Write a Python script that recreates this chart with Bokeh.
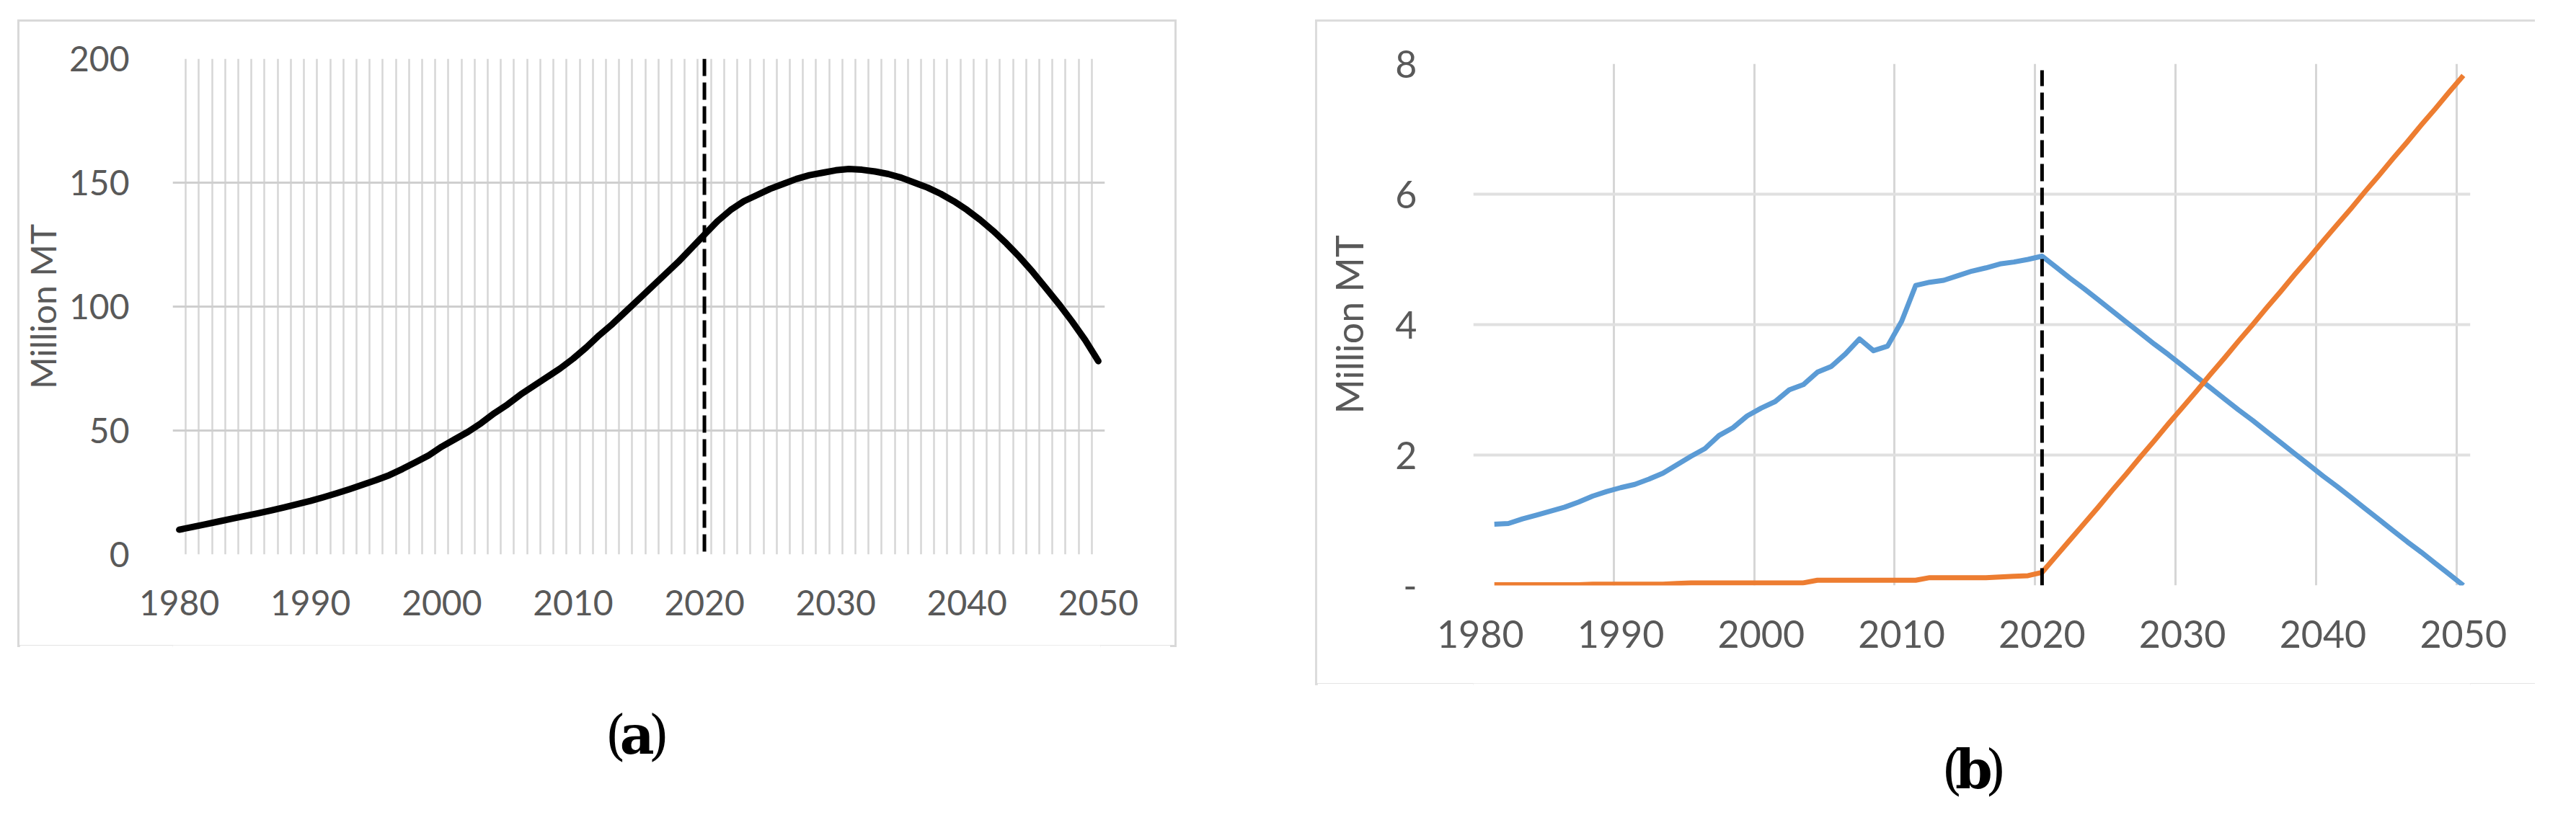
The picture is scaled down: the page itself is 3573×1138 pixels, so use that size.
from bokeh.plotting import figure
from bokeh.models import Range1d, FixedTicker, Span, Label
from bokeh.layouts import row, column
from bokeh.embed import file_html
from bokeh.resources import INLINE

# ---------------- data ----------------
years_a = list(range(1980, 2051))
total_mt = [
    10.0, 11.1, 12.2, 13.3, 14.4, 15.5, 16.6, 17.8, 19.0, 20.3,
    21.6, 23.1, 24.7, 26.4, 28.2, 30.0, 32.0, 34.5, 37.2, 40.0,
    43.5, 46.5, 49.5, 53.0, 57.0, 60.5, 64.5, 68.0, 71.5, 75.0,
    79.0, 83.5, 88.5, 93.0, 98.0, 103.0, 108.0, 113.0, 118.0, 123.5,
    129.0, 134.5, 139.0, 142.5, 145.0, 147.5, 149.5, 151.5, 153.0, 154.0,
    155.0, 155.5, 155.2, 154.5, 153.5, 152.0, 150.0, 148.0, 145.5, 142.5,
    139.0, 135.0, 130.5, 125.5, 120.0, 114.0, 107.5, 101.0, 94.0, 86.5,
    78.0,
]

years_b = list(range(1981, 2051))
blue_mt = [
    0.94, 0.95, 1.02, 1.08, 1.14, 1.20, 1.28, 1.37, 1.44, 1.50,
    1.55, 1.63, 1.72, 1.85, 1.98, 2.10, 2.30, 2.42, 2.60, 2.72,
    2.82, 3.00, 3.08, 3.27, 3.36, 3.55, 3.78, 3.60, 3.67, 4.05,
    4.60, 4.65, 4.68, 4.75, 4.82, 4.87, 4.93, 4.96, 5.00, 5.05,
    4.88, 4.71, 4.55, 4.38, 4.21, 4.04, 3.87, 3.70, 3.54, 3.37,
    3.20, 3.03, 2.86, 2.69, 2.53, 2.36, 2.19, 2.02, 1.85, 1.68,
    1.52, 1.35, 1.18, 1.01, 0.84, 0.67, 0.51, 0.34, 0.17, 0.00,
]
orange_mt = [
    0.01, 0.01, 0.01, 0.01, 0.01, 0.01, 0.01, 0.02, 0.02, 0.02,
    0.02, 0.02, 0.02, 0.03, 0.04, 0.04, 0.04, 0.04, 0.04, 0.04,
    0.04, 0.04, 0.04, 0.08, 0.08, 0.08, 0.08, 0.08, 0.08, 0.08,
    0.08, 0.12, 0.12, 0.12, 0.12, 0.12, 0.13, 0.14, 0.15, 0.20,
    0.45, 0.70, 0.95, 1.20, 1.46, 1.71, 1.97, 2.22, 2.48, 2.73,
    2.98, 3.24, 3.49, 3.75, 4.00, 4.26, 4.51, 4.77, 5.02, 5.28,
    5.53, 5.78, 6.04, 6.29, 6.55, 6.80, 7.06, 7.31, 7.57, 7.82,
]

x_ticks = [1980, 1990, 2000, 2010, 2020, 2030, 2040, 2050]
y_ticks_a = [0, 50, 100, 150, 200]
y_ticks_b = [0, 2, 4, 6, 8]
y_labels_b = ["-", "2", "4", "6", "8"]
marker_year = 2020
marker_top_b = 7.9
y_title = "Million MT"
captions = ["a", "b"]

TICK_COLOR = "#595959"
GRID_COLOR = "#d6d6d6"
FONT = "Lato"


def style_axes(p, font_px, x_standoff, y_standoff, title_standoff):
    for ax in (p.xaxis[0], p.yaxis[0]):
        ax.axis_line_color = None
        ax.major_tick_line_color = None
        ax.minor_tick_line_color = None
        ax.major_label_text_font = FONT
        ax.major_label_text_font_size = f"{font_px}px"
        ax.major_label_text_color = TICK_COLOR
    p.xaxis[0].ticker = FixedTicker(ticks=x_ticks)
    p.xaxis[0].major_label_standoff = x_standoff
    p.yaxis[0].major_label_standoff = y_standoff
    p.yaxis[0].axis_label = y_title
    p.yaxis[0].axis_label_text_font = FONT
    p.yaxis[0].axis_label_text_font_size = f"{font_px}px"
    p.yaxis[0].axis_label_text_font_style = "normal"
    p.yaxis[0].axis_label_text_color = TICK_COLOR
    p.yaxis[0].axis_label_standoff = title_standoff
    p.outline_line_color = None
    p.background_fill_color = "white"
    p.border_fill_color = "white"


def caption_fig(letter, width, height, cx, cy_from_top, margin_left):
    c = figure(width=width, height=height, x_range=Range1d(0, width), y_range=Range1d(height, 0),
               x_axis_type=None, y_axis_type=None, min_border=0,
               output_backend="svg", toolbar_location=None)
    c.grid.visible = False
    c.outline_line_color = None
    c.margin = (0, 0, 0, margin_left)
    for dx, txt, style in ((-37, "(", "normal"), (0, letter, "bold"), (37, ")", "normal")):
        c.add_layout(Label(x=cx + dx, y=cy_from_top, text=txt, text_align="center",
                           text_baseline="middle", text_font="DejaVu Serif",
                           text_font_size="74px", text_font_style=style, text_color="black"))
    return c


# ---------------- panel (a) ----------------
pa = figure(frame_width=1293, frame_height=688,
            min_border_left=206, min_border_top=51, min_border_right=97, min_border_bottom=126,
            x_range=Range1d(years_a[0] - 0.5, years_a[-1] + 0.5), y_range=Range1d(0, 200),
            output_backend="svg", toolbar_location=None)
pa.margin = (30, 0, 0, 27)
pa.styles = {"box-shadow": "0 0 0 3px #d9d9d9"}
style_axes(pa, 48, 43, 54, 5)
pa.yaxis[0].ticker = FixedTicker(ticks=y_ticks_a)
pa.xgrid.ticker = FixedTicker(ticks=[y - 0.5 for y in years_a] + [years_a[-1] + 0.5])
pa.ygrid.ticker = FixedTicker(ticks=y_ticks_a)
pa.xgrid.grid_line_color = GRID_COLOR
pa.xgrid.grid_line_width = 2.5
pa.ygrid.grid_line_color = "#cfcfcf"
pa.ygrid.grid_line_width = 3

pa.line(years_a, total_mt, line_color="black", line_width=9, line_join="round", line_cap="round")
pa.add_layout(Span(location=marker_year, dimension="height", line_color="black",
                   line_width=5, line_dash="24 9"))

cap_a = caption_fig(captions[0], 1596, 200, 799, 124, 27)

# ---------------- panel (b) ----------------
pb = figure(frame_width=1383, frame_height=724,
            min_border_left=216, min_border_top=58, min_border_right=90, min_border_bottom=136,
            x_range=Range1d(x_ticks[0] - 0.5, x_ticks[-1] + 0.5), y_range=Range1d(0, 8),
            output_backend="svg", toolbar_location=None)
pb.margin = (30, 0, 0, 198)
pb.styles = {"box-shadow": "-3px 0 0 0 #dcdcdc, 0 -3px 0 0 #dcdcdc, 0 3px 0 0 #dcdcdc, -3px -3px 0 0 #dcdcdc, -3px 3px 0 0 #dcdcdc"}
style_axes(pb, 52, 42, 72, 30)
pb.yaxis[0].ticker = FixedTicker(ticks=y_ticks_b)
pb.yaxis[0].major_label_overrides = {t: lab for t, lab in zip(y_ticks_b, y_labels_b)}
pb.xgrid.ticker = FixedTicker(ticks=[t - 0.5 for t in x_ticks])
pb.ygrid.ticker = FixedTicker(ticks=y_ticks_b)
pb.xgrid.grid_line_color = GRID_COLOR
pb.xgrid.grid_line_width = 3
pb.ygrid.grid_line_color = "#e0e0e0"
pb.ygrid.grid_line_width = 4

pb.line(years_b, blue_mt, line_color="#5b9bd5", line_width=7, line_join="round")
pb.line(years_b, orange_mt, line_color="#ed7d31", line_width=7, line_join="round")
pb.segment(x0=[marker_year], y0=[0], x1=[marker_year], y1=[marker_top_b],
           line_color="black", line_width=5, line_dash="24 9")

cap_b = caption_fig(captions[1], 1689, 170, 848, 119, 198)

layout = row(column(pa, cap_a), column(pb, cap_b))
open("out.html", "w").write(file_html(layout, INLINE))
